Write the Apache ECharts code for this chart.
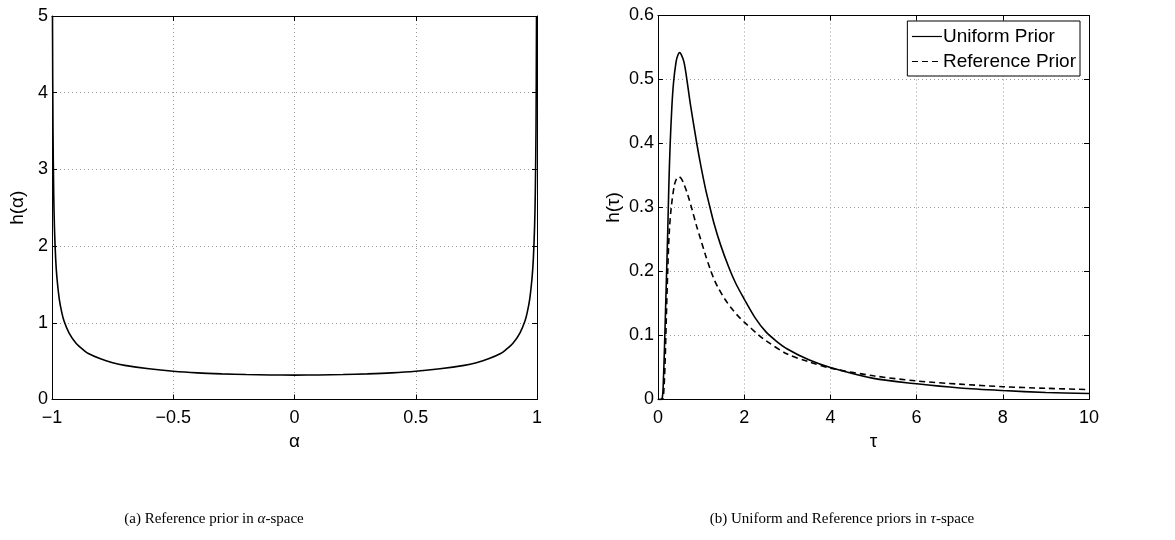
<!DOCTYPE html>
<html>
<head>
<meta charset="utf-8">
<script src="https://cdn.jsdelivr.net/npm/echarts@6/dist/echarts.min.js"></script>
<style>
html,body{margin:0;padding:0;background:#fff;}
#chart{width:1175px;height:540px;}
</style>
</head>
<body>
<div id="chart"></div>
<script>
// ---- Data ----
// (a) Reference prior in alpha-space
const alphaVals = [-0.998,-0.996,-0.993,-0.99,-0.985,-0.98,-0.97,-0.96,-0.95,-0.93,-0.9,-0.87,-0.85,-0.8,-0.75,-0.7,-0.6,-0.5,-0.4,-0.3,-0.2,-0.1,0,
                   0.1,0.2,0.3,0.4,0.5,0.6,0.7,0.75,0.8,0.85,0.87,0.9,0.93,0.95,0.96,0.97,0.98,0.985,0.99,0.993,0.996,0.998];
const hAlpha    = [5.0,3.55,2.7,2.25,1.84,1.6,1.31,1.14,1.02,0.87,0.73,0.645,0.60,0.53,0.48,0.445,0.40,0.368,0.347,0.334,0.325,0.32,0.318,
                   0.32,0.325,0.334,0.347,0.368,0.40,0.445,0.48,0.53,0.60,0.645,0.73,0.87,1.02,1.14,1.31,1.6,1.84,2.25,2.7,3.55,5.0];

// (b) Uniform and Reference priors in tau-space
const tauUniform = [0,0.05,0.1,0.125,0.15,0.175,0.2,0.225,0.25,0.28,0.32,0.36,0.42,0.46,0.5,0.54,0.6,0.655,0.75,0.9,1.0,1.1,1.17,1.3,1.45,1.64,1.8,2.0,2.25,2.5,2.75,3.0,3.5,4.0,5.0,6.0,7.0,8.0,9.0,10.0];
const hUniform   = [0,0,0.003,0.03,0.08,0.14,0.2,0.26,0.33,0.395,0.455,0.495,0.528,0.538,0.542,0.539,0.528,0.507,0.462,0.4,0.363,0.33,0.31,0.275,0.242,0.207,0.182,0.157,0.128,0.106,0.091,0.079,0.062,0.05,0.033,0.0245,0.018,0.014,0.011,0.0093];
const tauReference = [0,0.1,0.14,0.17,0.19,0.225,0.26,0.307,0.38,0.43,0.48,0.53,0.58,0.68,0.785,0.9,1.0,1.1,1.215,1.3,1.4,1.55,1.7,1.85,2.0,2.33,2.5,3.0,3.5,4.0,5.0,6.0,7.0,8.0,9.0,10.0];
const hReference   = [0,0,0.02,0.07,0.12,0.2,0.26,0.3,0.335,0.345,0.348,0.346,0.34,0.322,0.298,0.27,0.248,0.226,0.203,0.188,0.174,0.157,0.143,0.131,0.121,0.101,0.092,0.071,0.059,0.049,0.037,0.029,0.024,0.02,0.0175,0.0155];

const seriesNames = ['Uniform Prior','Reference Prior'];
const captionA = '(a) Reference prior in {i|α}-space';
const captionB = '(b) Uniform and Reference priors in {i|τ}-space';

const pair = (xs, ys) => xs.map((x, i) => [x, ys[i]]);
const fmtMinus = v => String(v).replace('-', '\u2212');

const FONT = 'Liberation Sans, Arial, Helvetica, sans-serif';
const gridLine = {show: true, lineStyle: {color: '#9a9a9a', width: 1, type: [1, 3]}};
const tick = {show: true, inside: true, length: 5, lineStyle: {color: '#000', width: 1}};
const axLine = {show: true, onZero: false, lineStyle: {color: '#000', width: 1}};

function mainX(gi, min, max, interval, name) {
  return {type: 'value', gridIndex: gi, position: 'bottom', min, max, interval,
    axisLine: axLine, axisTick: tick, splitLine: gridLine,
    axisLabel: {color: '#000', fontFamily: FONT, fontSize: 18, margin: 10, formatter: fmtMinus},
    name, nameLocation: 'middle', nameGap: 28,
    nameTextStyle: {color: '#000', fontFamily: FONT, fontSize: 19}};
}
function topX(gi, min, max, interval) {
  return {type: 'value', gridIndex: gi, position: 'top', min, max, interval,
    axisLine: axLine, axisTick: tick, splitLine: {show: false}, axisLabel: {show: false}};
}
function mainY(gi, min, max, interval, name, gap) {
  return {type: 'value', gridIndex: gi, position: 'left', min, max, interval,
    axisLine: axLine, axisTick: tick, splitLine: gridLine,
    axisLabel: {color: '#000', fontFamily: FONT, fontSize: 18, margin: 4, formatter: fmtMinus},
    name, nameLocation: 'middle', nameGap: gap,
    nameTextStyle: {color: '#000', fontFamily: FONT, fontSize: 19}};
}
function rightY(gi, min, max, interval) {
  return {type: 'value', gridIndex: gi, position: 'right', min, max, interval,
    axisLine: axLine, axisTick: tick, splitLine: {show: false}, axisLabel: {show: false}};
}

const chart = echarts.init(document.getElementById('chart'), null, {renderer: 'canvas'});
chart.setOption({
  animation: false,
  backgroundColor: '#fff',
  grid: [
    {left: 52, top: 16, width: 485, height: 383.5},
    {left: 658, top: 15.5, width: 431, height: 384}
  ],
  xAxis: [
    mainX(0, -1, 1, 0.5, 'α'),
    topX(0, -1, 1, 0.5),
    mainX(1, 0, 10, 2, 'τ'),
    topX(1, 0, 10, 2)
  ],
  yAxis: [
    mainY(0, 0, 5, 1, 'h(α)', 25),
    rightY(0, 0, 5, 1),
    mainY(1, 0, 0.6, 0.1, 'h(τ)', 35),
    rightY(1, 0, 0.6, 0.1)
  ],
  legend: {
    data: seriesNames,
    orient: 'vertical',
    right: 95, top: 21,
    itemWidth: 30, itemHeight: 12, itemGap: 6,
    padding: [6, 4, 5, 4],
    borderColor: '#000', borderWidth: 1, backgroundColor: '#fff',
    itemStyle: {opacity: 0, color: 'transparent', borderWidth: 0},
    lineStyle: {width: 1.2},
    textStyle: {color: '#000', fontFamily: FONT, fontSize: 19, padding: [0, 0, 0, -4]}
  },
  series: [
    {type: 'line', name: 'h_alpha', xAxisIndex: 0, yAxisIndex: 0, data: pair(alphaVals, hAlpha),
      smooth: 0.3, symbol: 'none', lineStyle: {color: '#000', width: 1.6}, clip: true},
    {type: 'line', name: seriesNames[0], xAxisIndex: 2, yAxisIndex: 2, data: pair(tauUniform, hUniform),
      smooth: 0.3, symbol: 'none', itemStyle: {color: '#000'}, lineStyle: {color: '#000', width: 1.6}},
    {type: 'line', name: seriesNames[1], xAxisIndex: 2, yAxisIndex: 2, data: pair(tauReference, hReference),
      smooth: 0.3, symbol: 'none', itemStyle: {color: '#000'}, lineStyle: {color: '#000', width: 1.6, type: [6, 4]}}
  ],
  graphic: [
    {type: 'text', x: 214, y: 519, style: {text: captionA, fill: '#000', align: 'center', verticalAlign: 'middle',
      font: '15px "Liberation Serif", "Times New Roman", serif',
      rich: {i: {fontStyle: 'italic', fontFamily: 'Liberation Serif', fontSize: 15}}}},
    {type: 'text', x: 842, y: 519, style: {text: captionB, fill: '#000', align: 'center', verticalAlign: 'middle',
      font: '15px "Liberation Serif", "Times New Roman", serif',
      rich: {i: {fontStyle: 'italic', fontFamily: 'Liberation Serif', fontSize: 15}}}}
  ]
});
</script>
</body>
</html>
